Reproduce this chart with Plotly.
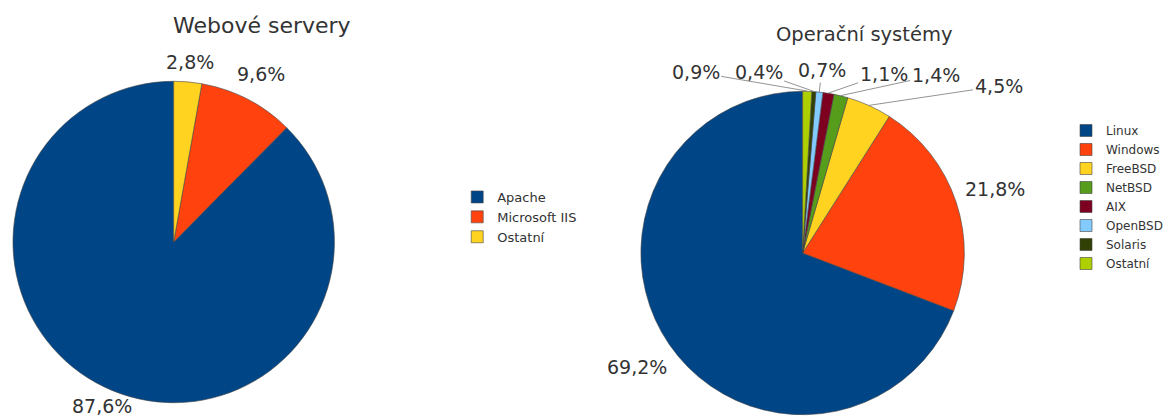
import math
import plotly.graph_objects as go

W, H = 1168, 419

# ---------------- data ----------------
web_title = "Webové servery"
web_labels = ["Apache", "Microsoft IIS", "Ostatní"]
web_values = [87.6, 9.6, 2.8]

os_title = "Operační systémy"
os_labels = ["Linux", "Windows", "FreeBSD", "NetBSD", "AIX", "OpenBSD", "Solaris", "Ostatní"]
os_values = [69.2, 21.8, 4.5, 1.4, 1.1, 0.7, 0.4, 0.9]

# ---------------- styles / layout ----------------
web_colors = ["#004586", "#ff420e", "#ffd320"]
os_colors = ["#004586", "#ff420e", "#ffd320", "#579d1c", "#7e0021", "#83caff", "#314004", "#aecf00"]

FONT = "DejaVu Sans"
TXT = "#333333"
LABEL_FS = 19

WEB_PIE = dict(cx=174, cy=242, r=161)
OS_PIE = dict(cx=804, cy=253, r=162)

# label centres (pixels) for slices whose labels were moved off the radial spot
OS_MOVED = {
    "FreeBSD": (1000, 86),
    "NetBSD": (937, 75),
    "AIX": (885, 74),
    "OpenBSD": (823, 70),
    "Solaris": (760, 72),
    "Ostatní": (697, 72),
}

CHAR_W = {c: 0.636 for c in "0123456789"}
CHAR_W.update({",": 0.318, "%": 0.95})


def text_w(s, fs):
    return sum(CHAR_W.get(c, 0.6) for c in s) * fs


def fmt(v):
    return f"{v:.1f}".replace(".", ",") + "%"


def domain(p):
    return dict(
        x=[(p["cx"] - p["r"]) / W, (p["cx"] + p["r"]) / W],
        y=[1 - (p["cy"] + p["r"]) / H, 1 - (p["cy"] - p["r"]) / H],
    )


def ccw_rotation(values):
    # counterclockwise pie whose last slice starts at 12 o'clock going clockwise
    total = sum(values)
    return 360 * (total - values[0]) / total


def label_annotations(labels, values, p, moved):
    """Clockwise from 12 o'clock the slices appear in reverse order."""
    anns = []
    total = sum(values)
    cx, cy, r = p["cx"], p["cy"], p["r"]
    cum = 0.0
    mids = {}
    for lab, v in reversed(list(zip(labels, values))):
        mids[lab] = cum + v / 2
        cum += v
    for lab, v in zip(labels, values):
        theta = math.radians(90 - 360 * mids[lab] / total)
        dx, dy = math.cos(theta), -math.sin(theta)
        txt = fmt(v)
        font = dict(family=FONT, size=LABEL_FS, color=TXT)
        if lab in moved:
            tx, ty = cx + r * dx, cy + r * dy
            lx, ly = moved[lab]
            anns.append(dict(
                text=txt, xref="paper", yref="paper", x=tx / W, y=1 - ty / H,
                ax=lx - tx, ay=ly - ty, showarrow=True, arrowhead=0,
                arrowwidth=0.8, arrowcolor="#777777", standoff=0, font=font,
            ))
        else:
            w = text_w(txt, LABEL_FS)
            h = LABEL_FS * 0.85
            dist = r + 10 + abs(w / 2 * dx) + abs(h / 2 * dy)
            lx, ly = cx + dist * dx, cy + dist * dy
            ly = min(ly, H - LABEL_FS * 0.7)
            anns.append(dict(
                text=txt, xref="paper", yref="paper", x=lx / W, y=1 - ly / H,
                xanchor="center", yanchor="middle", showarrow=False, font=font,
            ))
    return anns


fig = go.Figure()
fig.add_trace(go.Pie(
    labels=web_labels, values=web_values, sort=False, direction="counterclockwise",
    rotation=ccw_rotation(web_values), textinfo="none", hoverinfo="label+percent",
    marker=dict(colors=web_colors, line=dict(color="#444444", width=0.6)),
    domain=domain(WEB_PIE), legend="legend", legendgroup="web",
))
fig.add_trace(go.Pie(
    labels=os_labels, values=os_values, sort=False, direction="counterclockwise",
    rotation=ccw_rotation(os_values), textinfo="none", hoverinfo="label+percent",
    marker=dict(colors=os_colors, line=dict(color="#444444", width=0.6)),
    domain=domain(OS_PIE), legend="legend2", legendgroup="os",
))

annotations = []
annotations += label_annotations(web_labels, web_values, WEB_PIE, {})
annotations += label_annotations(os_labels, os_values, OS_PIE, OS_MOVED)
annotations.append(dict(text=web_title, xref="paper", yref="paper", x=262 / W, y=1 - 25 / H,
                        xanchor="center", yanchor="middle", showarrow=False,
                        font=dict(family=FONT, size=22, color=TXT)))
annotations.append(dict(text=os_title, xref="paper", yref="paper", x=865 / W, y=1 - 35 / H,
                        xanchor="center", yanchor="middle", showarrow=False,
                        font=dict(family=FONT, size=19.5, color=TXT)))

fig.update_layout(
    width=W, height=H,
    margin=dict(l=0, r=0, t=0, b=0),
    paper_bgcolor="white", plot_bgcolor="white",
    showlegend=True,
    annotations=annotations,
    legend=dict(x=458 / W, y=1 - 182 / H, xanchor="left", yanchor="top",
                font=dict(family=FONT, size=13, color=TXT), itemwidth=30,
                bgcolor="rgba(0,0,0,0)", traceorder="normal"),
    legend2=dict(x=1068 / W, y=1 - 116 / H, xanchor="left", yanchor="top",
                 font=dict(family=FONT, size=12, color=TXT), itemwidth=30,
                 bgcolor="rgba(0,0,0,0)", traceorder="normal"),
)

fig.write_html("out.html")
